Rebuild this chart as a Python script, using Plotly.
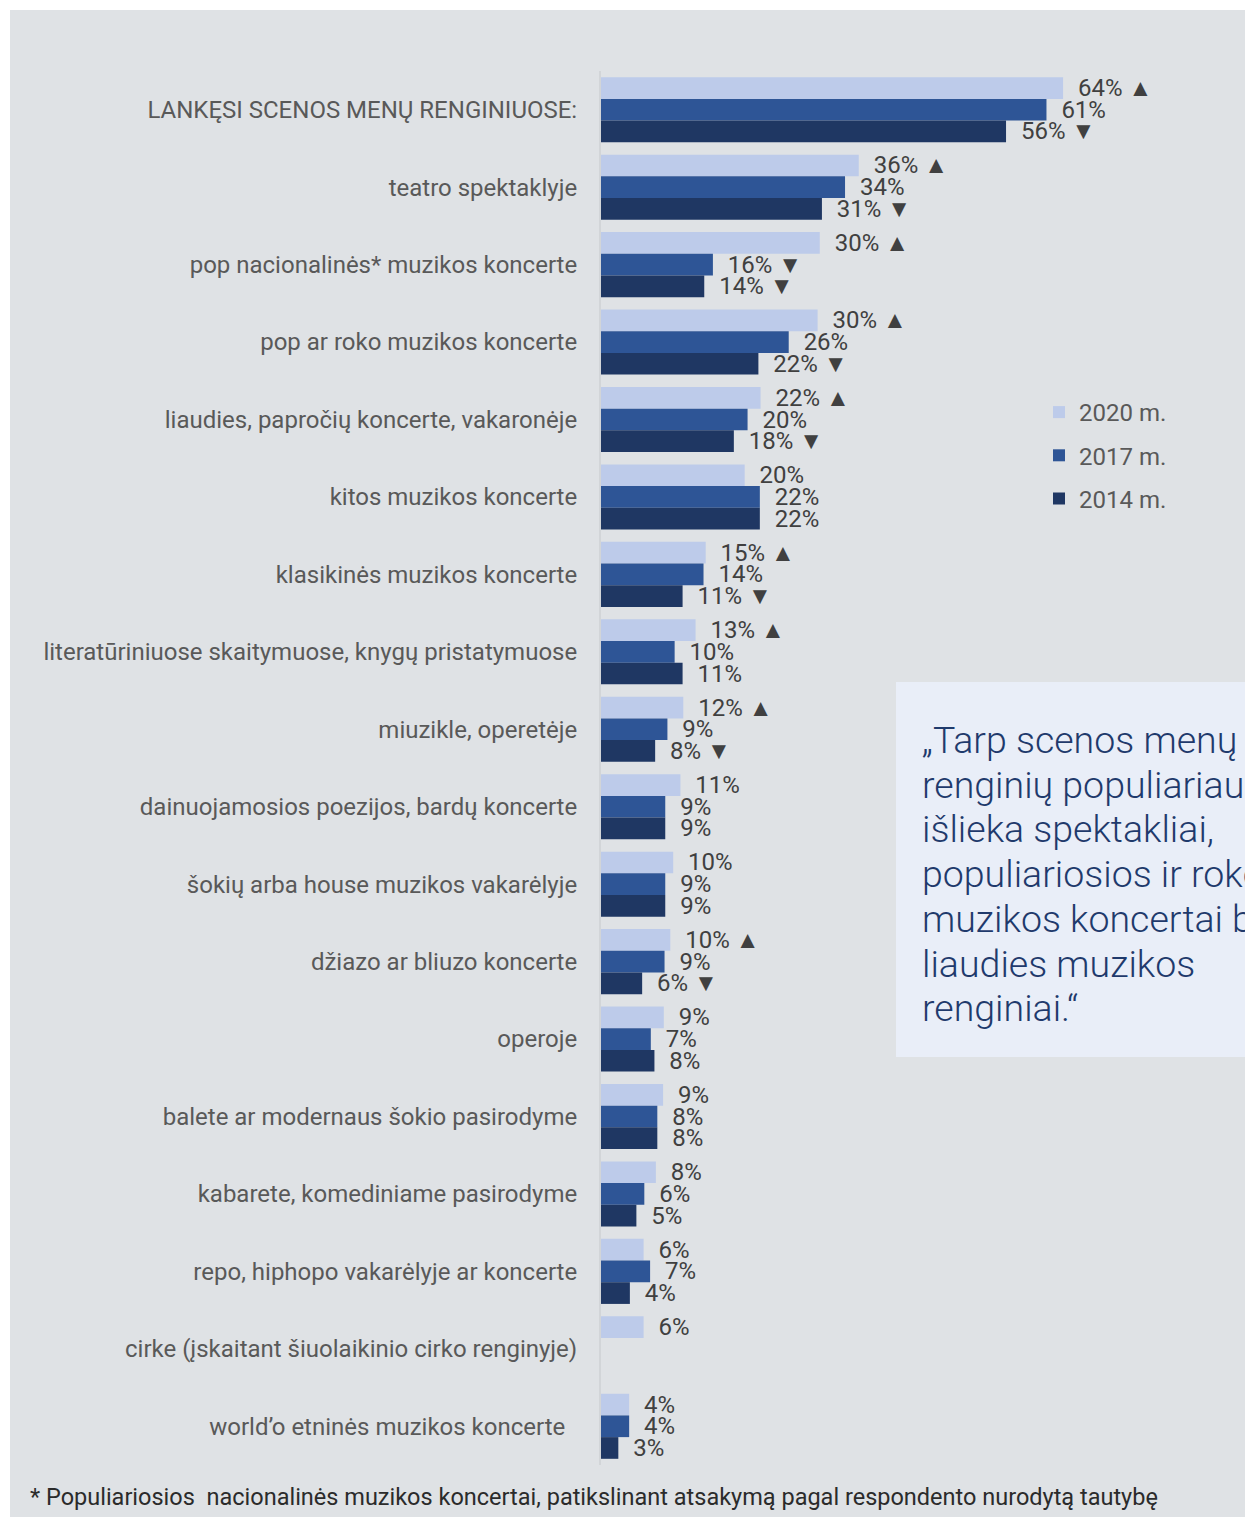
import plotly.graph_objects as go

W, H = 1245, 1517
ML, MR, MT, MB = 601, 0, 71, 52

categories = [
    "LANKĘSI SCENOS MENŲ RENGINIUOSE:",
    "teatro spektaklyje",
    "pop nacionalinės* muzikos koncerte",
    "pop ar roko muzikos koncerte",
    "liaudies, papročių koncerte, vakaronėje",
    "kitos muzikos koncerte",
    "klasikinės muzikos koncerte",
    "literatūriniuose skaitymuose, knygų pristatymuose",
    "miuzikle, operetėje",
    "dainuojamosios poezijos, bardų koncerte",
    "šokių arba house muzikos vakarėlyje",
    "džiazo ar bliuzo koncerte",
    "operoje",
    "balete ar modernaus šokio pasirodyme",
    "kabarete, komediniame pasirodyme",
    "repo, hiphopo vakarėlyje ar koncerte",
    "cirke (įskaitant šiuolaikinio cirko renginyje)",
    "world\u2019o etninės muzikos koncerte",
]
tick_labels = categories[:-1] + [categories[-1] + "\u00a0\u00a0"]

years = ["2020 m.", "2017 m.", "2014 m."]
colors = ["#bdcbea", "#2e5596", "#1f3763"]

# bar lengths
v2020 = [64.0, 35.7, 30.3, 30.0, 22.1, 19.9, 14.5, 13.1, 11.4, 11.0, 10.0, 9.6, 8.7, 8.6, 7.6, 5.9, 5.9, 3.9]
v2017 = [61.7, 33.8, 15.5, 26.0, 20.3, 22.0, 14.2, 10.2, 9.2, 8.9, 8.9, 8.8, 6.9, 7.8, 6.0, 6.8, None, 3.9]
v2014 = [56.1, 30.6, 14.3, 21.8, 18.4, 22.0, 11.3, 11.3, 7.5, 8.9, 8.9, 5.7, 7.4, 7.8, 4.9, 4.0, None, 2.4]

# printed labels
p2020 = [64, 36, 30, 30, 22, 20, 15, 13, 12, 11, 10, 10, 9, 9, 8, 6, 6, 4]
p2017 = [61, 34, 16, 26, 20, 22, 14, 10, 9, 9, 9, 9, 7, 8, 6, 7, None, 4]
p2014 = [56, 31, 14, 22, 18, 22, 11, 11, 8, 9, 9, 6, 8, 8, 5, 4, None, 3]

t2020 = ["▲", "▲", "▲", "▲", "▲", "", "▲", "▲", "▲", "", "", "▲", "", "", "", "", "", ""]
t2017 = ["", "", "▼", "", "", "", "", "", "", "", "", "", "", "", "", "", "", ""]
t2014 = ["▼", "▼", "▼", "▼", "▼", "", "▼", "", "▼", "", "", "▼", "", "", "", "", "", ""]

quote_lines = [
    "\u201eTarp scenos menų",
    "renginių populiariausi",
    "išlieka spektakliai,",
    "populiariosios ir roko",
    "muzikos koncertai bei",
    "liaudies muzikos",
    "renginiai.\u201c",
]
footnote = "* Populiariosios  nacionalinės muzikos koncertai, patikslinant atsakymą pagal respondento nurodytą tautybę"

PW = W - ML - MR
PH = H - MT - MB
PX_PER_PCT = 7.22


def X(px):
    return (px - ML) / PW


def Y(py):
    return 1 - (py - MT) / PH


def make_text(printed, trend):
    out = []
    for p, t in zip(printed, trend):
        if p is None:
            out.append("")
        else:
            s = "\u00a0\u00a0" + f"{p}%"
            if t:
                s += "\u00a0" + t
            out.append(s)
    return out


fig = go.Figure()
for name, vals, pr, tr, col in zip(years, [v2020, v2017, v2014], [p2020, p2017, p2014],
                                    [t2020, t2017, t2014], colors):
    fig.add_trace(go.Bar(
        y=categories, x=vals, orientation="h", name=name,
        marker=dict(color=col, line=dict(width=0)),
        text=make_text(pr, tr), textposition="outside", textangle=0,
        constraintext="none", cliponaxis=False,
        textfont=dict(family="Roboto", size=24, color="#404040"),
        legendgroup=name, hoverinfo="skip",
    ))

shapes = [
    dict(type="rect", xref="paper", yref="paper", x0=X(-5), x1=X(10), y0=Y(H + 5), y1=Y(-5),
         fillcolor="white", line=dict(width=0), layer="below"),
    dict(type="rect", xref="paper", yref="paper", x0=X(-5), x1=X(W + 5), y0=Y(10), y1=Y(-5),
         fillcolor="white", line=dict(width=0), layer="below"),
    dict(type="rect", xref="paper", yref="paper", x0=X(896), x1=X(W + 20), y0=Y(1057), y1=Y(682),
         fillcolor="#e9eef8", line=dict(width=0), layer="below"),
]

annotations = []
LINE0, LINE_STEP = 740, 44.7
for i, line in enumerate(quote_lines):
    annotations.append(dict(
        xref="paper", yref="paper", x=X(920), y=Y(LINE0 + i * LINE_STEP),
        xanchor="left", yanchor="middle", text=line, align="left", showarrow=False,
        font=dict(family="Roboto", size=37.5, color="#1f3a6c", weight=300)))
annotations.append(dict(
    xref="paper", yref="paper", x=X(28), y=Y(1497), xanchor="left", yanchor="middle",
    text=footnote, showarrow=False,
    font=dict(family="Roboto", size=23.5, color="#2b2b2b")))

fig.update_layout(
    width=W, height=H,
    margin=dict(l=ML, r=MR, t=MT, b=MB, pad=0, autoexpand=False),
    paper_bgcolor="#dfe2e5", plot_bgcolor="rgba(0,0,0,0)",
    barmode="group", bargap=0.16, bargroupgap=0,
    font=dict(family="Roboto", size=24, color="#595959"),
    xaxis=dict(range=[0, PW / PX_PER_PCT], visible=False, fixedrange=True, automargin=False),
    yaxis=dict(type="category", categoryorder="array", categoryarray=categories,
               tickmode="array", tickvals=categories, ticktext=tick_labels,
               autorange="reversed", showline=True, linecolor="#d2d5d8", linewidth=2,
               showgrid=False, zeroline=False, ticks="", ticklabelstandoff=17,
               automargin=False, fixedrange=True,
               tickfont=dict(family="Roboto", size=24, color="#595959")),
    legend=dict(xref="container", yref="container", x=1039 / W, y=1 - 390 / H,
                xanchor="left", yanchor="top", traceorder="grouped", tracegroupgap=9,
                bgcolor="rgba(0,0,0,0)", font=dict(family="Roboto", size=24, color="#595959")),
    shapes=shapes, annotations=annotations,
    showlegend=True,
)

fig.write_html("out.html", config={"displayModeBar": False},
               post_script="document.body.style.margin='0';")
